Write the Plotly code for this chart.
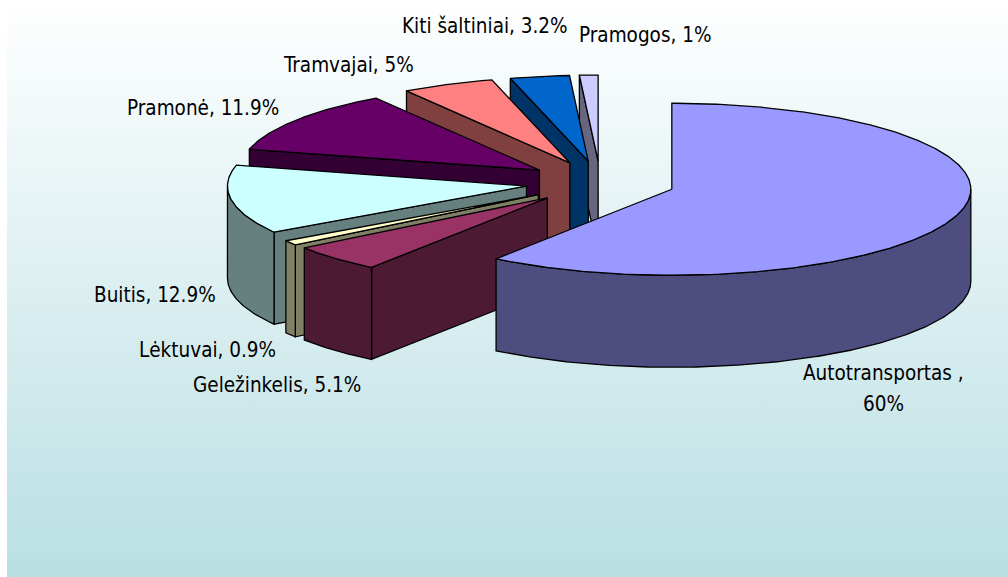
import math
import plotly.graph_objects as go

# ---- data (clockwise from 12 o'clock) ----
categories = ["Autotransportas ", "Geležinkelis", "Lėktuvai", "Buitis", "Pramonė",
              "Tramvajai", "Kiti šaltiniai", "Pramogos"]
shares = [60, 5.1, 0.9, 12.9, 11.9, 5, 3.2, 1]
top_colors = ["#9999FF", "#993366", "#FFFFCC", "#CCFFFF", "#660066", "#FF8080", "#0066CC", "#CCCCFF"]
side_colors = ["#4D4D80", "#4D1A33", "#808066", "#668080", "#330033", "#804040", "#003366", "#666680"]

# ---- projection of the tilted pie onto the page ----
W, H = 1008, 577
CX, CY = 600.5, 182.6     # pie centre
RX, RY = 299.0, 86.0      # ellipse of the top face
EXPLODE = 75.0            # radial pull, in the x units of the ellipse
DEPTH = 92.0              # thickness of the pie

# label anchor (centre x, centre y) and text, same order as categories
label_pos = [(883, 373), (276.5, 385), (207, 350), (154.5, 295), (203, 108),
             (348.5, 65), (485, 26), (644.5, 35)]
FONT = dict(family="DejaVu Sans Condensed", size=20.5, color="#000000")


def project(deg, r=1.0):
    t = math.radians(deg)
    return r * RX * math.sin(t), -r * RY * math.cos(t)


def poly(fig, pts, color):
    fig.add_trace(go.Scatter(
        x=[p[0] for p in pts] + [pts[0][0]], y=[p[1] for p in pts] + [pts[0][1]],
        mode="lines", fill="toself", fillcolor=color,
        line=dict(color="#000000", width=1.3), hoverinfo="skip", showlegend=False))


fig = go.Figure()

# page background
fig.add_trace(go.Scatter(
    x=[7, W, W, 7, 7], y=[0, 0, H, H, 0], mode="lines", fill="toself",
    line=dict(width=0, color="rgba(0,0,0,0)"),
    fillgradient=dict(type="vertical", colorscale=[[0, "#B9DFE3"], [1, "#FFFFFF"]]),
    hoverinfo="skip", showlegend=False))

# cumulative angles
total = sum(shares)
angles = []
acc = 0.0
for v in shares:
    angles.append((acc / total * 360, (acc + v) / total * 360))
    acc += v

# painter's order: last slice first, first slice on top
for i in reversed(range(len(shares))):
    a, b = angles[i]
    mid = (a + b) / 2
    ox = CX + EXPLODE * math.sin(math.radians(mid))
    oy = CY - EXPLODE * RY / RX * math.cos(math.radians(mid))

    def P(deg, drop=0.0, r=1.0):
        dx, dy = project(deg, r)
        return ox + dx, oy + dy + drop

    apex = (ox, oy)
    n = max(3, int((b - a) * 1.5))
    arc = [a + (b - a) * k / n for k in range(n + 1)]

    # radial walls facing the viewer
    if math.cos(math.radians(a - 90)) < -1e-6:
        s = P(a)
        poly(fig, [apex, s, (s[0], s[1] + DEPTH), (ox, oy + DEPTH)], side_colors[i])
    if math.cos(math.radians(b + 90)) < -1e-6:
        s = P(b)
        poly(fig, [apex, s, (s[0], s[1] + DEPTH), (ox, oy + DEPTH)], side_colors[i])
    # rim wall: only the near half of the ellipse
    lo, hi = max(a, 90), min(b, 270)
    if hi > lo:
        m = max(3, int((hi - lo) * 1.5))
        front = [lo + (hi - lo) * k / m for k in range(m + 1)]
        poly(fig, [P(d) for d in front] + [P(d, DEPTH) for d in reversed(front)], side_colors[i])
    # top face
    poly(fig, [apex] + [P(d) for d in arc], top_colors[i])

# data labels
for name, v, (lx, ly) in zip(categories, shares, label_pos):
    if name.endswith(" "):      # this label wraps onto a second line
        lines = [f"{name},", f"{v}%"]
    else:
        lines = [f"{name}, {v}%"]
    for k, line in enumerate(lines):
        fig.add_annotation(x=lx, y=ly + 31 * k, text=line, showarrow=False, font=FONT,
                           xanchor="center", yanchor="middle", align="center")

fig.update_layout(
    width=W, height=H, autosize=False,
    margin=dict(l=0, r=0, t=0, b=0),
    paper_bgcolor="#FFFFFF", plot_bgcolor="rgba(0,0,0,0)",
    xaxis=dict(range=[0, W], visible=False, fixedrange=True),
    yaxis=dict(range=[H, 0], visible=False, fixedrange=True),
    showlegend=False,
)
fig.write_html("out.html", config={"displayModeBar": False},
               post_script="document.body.style.margin='0';")
